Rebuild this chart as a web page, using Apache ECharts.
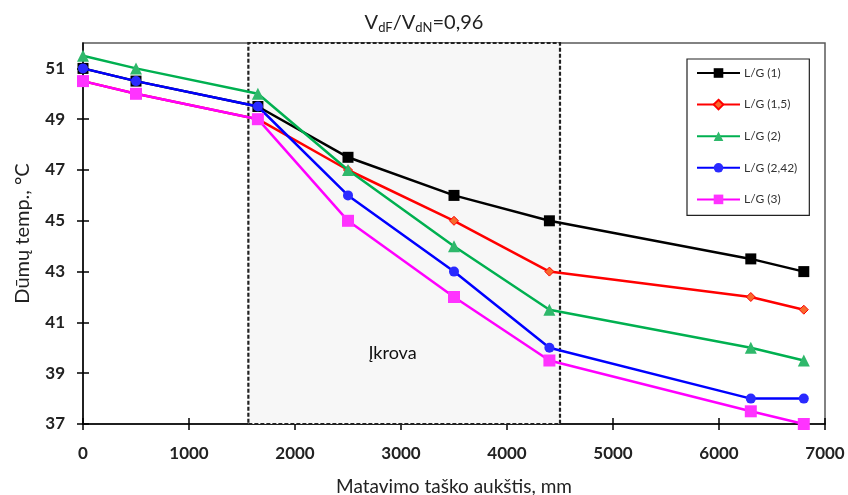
<!DOCTYPE html>
<html>
<head>
<meta charset="utf-8">
<script src="https://cdn.jsdelivr.net/npm/echarts@6/dist/echarts.min.js"></script>
<style>
  html, body { margin: 0; padding: 0; background: #fff; }
  #chart { width: 848px; height: 495px; }
</style>
</head>
<body>
<div id="chart"></div>
<script>
// Measurement heights along the stack, mm
const heights = [0, 500, 1650, 2500, 3500, 4400, 6300, 6800];

// Flue gas temperature, °C, for each L/G ratio
const seriesNames = ['L/G (1)', 'L/G (1,5)', 'L/G (2)', 'L/G (2,42)', 'L/G (3)'];
const lg1   = [51, 50.5, 49.5, 47.5, 46, 45, 43.5, 43];
const lg15  = [50.5, 50, 49, 47, 45, 43, 42, 41.5];
const lg2   = [51.5, 51, 50, 47, 44, 41.5, 40, 39.5];
const lg242 = [51, 50.5, 49.5, 46, 43, 40, 38, 38];
const lg3   = [50.5, 50, 49, 45, 42, 39.5, 37.5, 37];

// Packing (Įkrova) zone, mm
const packingZone = [1560, 4500];

// Axis tick labels
const xTicks = [0, 1000, 2000, 3000, 4000, 5000, 6000, 7000];
const yTicks = [37, 39, 41, 43, 45, 47, 49, 51];

const FONT = 'Lato, "Open Sans", sans-serif';

const pairs = ys => heights.map((x, i) => [x, ys[i]]);

const styles = [
  { color: '#000000', symbol: 'rect', size: 11, fill: '#000000' },
  { color: '#ff0000', symbol: 'diamond', size: 9, fill: '#f86a2c' },
  { color: '#00b050', symbol: 'triangle', size: 12, fill: '#2fb86b' },
  { color: '#0000ff', symbol: 'circle', size: 10, fill: '#2a2aff' },
  { color: '#ff00ff', symbol: 'rect', size: 12, fill: '#ff33ff' }
];
const values = [lg1, lg15, lg2, lg242, lg3];

const lineSeries = seriesNames.map((name, i) => ({
  name,
  type: 'line',
  z: 3 + i,
  data: pairs(values[i]),
  symbol: styles[i].symbol,
  symbolSize: styles[i].size,
  showAllSymbol: true,
  lineStyle: { color: styles[i].color, width: 2.5 },
  itemStyle: { color: styles[i].fill, borderColor: styles[i].color, borderWidth: i === 1 ? 1 : 0 },
  emphasis: { disabled: true },
  animation: false
}));

const zoneSeries = {
  name: 'zone',
  type: 'line',
  z: 1,
  data: [],
  silent: true,
  markArea: {
    silent: true,
    itemStyle: { color: '#f7f7f7', borderColor: '#222', borderWidth: 2.2, borderType: [4, 2] },
    label: { show: false },
    data: [[{ xAxis: packingZone[0], yAxis: 37 }, { xAxis: packingZone[1], yAxis: 52 }]]
  },
  markPoint: {
    silent: true,
    symbol: 'circle',
    symbolSize: 0,
    label: { show: true, position: 'inside', formatter: 'Įkrova', color: '#111', fontFamily: FONT, fontSize: 18 },
    data: [{ coord: [2920, 39.8] }]
  },
  animation: false
};

const axisText = { fontFamily: FONT, fontSize: 17, fontWeight: 'bold', color: '#222' };
const plain = v => String(v);

const chart = echarts.init(document.getElementById('chart'), null, { renderer: 'canvas' });
chart.setOption({
  backgroundColor: '#fff',
  animation: false,
  title: {
    text: 'V{sub|dF}/V{sub|dN}=0,96',
    left: 419, top: 6, textAlign: 'center',
    textStyle: {
      fontFamily: FONT, fontSize: 20, fontWeight: 'normal', color: '#222',
      rich: { sub: { fontFamily: FONT, fontSize: 13, color: '#222', verticalAlign: 'bottom', padding: [10, 0, 0, 0] } }
    }
  },
  grid: {
    left: 83, right: 23, top: 43, bottom: 71,
    outerBoundsMode: 'none',
    containLabel: false,
    show: true, borderColor: '#595959', borderWidth: 1.5, backgroundColor: 'transparent'
  },
  legend: {
    orient: 'vertical',
    left: 687, top: 59,
    width: 123,
    padding: [8, 12, 10, 9],
    itemWidth: 43, itemHeight: 12, itemGap: 19.6,
    backgroundColor: '#fff',
    borderColor: '#222', borderWidth: 1.2,
    data: seriesNames,
    textStyle: { fontFamily: FONT, fontSize: 12, color: '#333', padding: [0, 0, 0, -1] }
  },
  xAxis: [{
    type: 'value', min: 0, max: 7000, interval: 1000,
    axisLine: { show: true, lineStyle: { color: '#000', width: 1.5 } },
    axisTick: { show: true, length: 6, lineStyle: { color: '#000', width: 1.5 }, customValues: xTicks },
    axisLabel: Object.assign({ margin: 21, customValues: xTicks, formatter: plain }, axisText),
    splitLine: { show: false },
    name: 'Matavimo taško aukštis, mm',
    nameLocation: 'middle', nameGap: 53,
    nameTextStyle: { fontFamily: FONT, fontSize: 19, color: '#222' }
  }, {
    type: 'value', min: 0, max: 7000, interval: 1000, position: 'bottom',
    axisLine: { show: false },
    axisTick: { show: true, inside: true, length: 6, lineStyle: { color: '#000', width: 1.5 }, customValues: xTicks },
    axisLabel: { show: false },
    splitLine: { show: false }
  }],
  yAxis: [{
    type: 'value', min: 37, max: 52, interval: 2,
    axisLine: { show: true, lineStyle: { color: '#000', width: 1.5 } },
    axisTick: { show: true, length: 6, lineStyle: { color: '#000', width: 1.5 }, customValues: yTicks },
    axisLabel: Object.assign({ margin: 18, customValues: yTicks, formatter: plain }, axisText),
    splitLine: { show: false },
    name: 'Dūmų temp., °C',
    nameLocation: 'middle', nameGap: 50, nameRotate: 90,
    nameTextStyle: { fontFamily: FONT, fontSize: 20, color: '#222' }
  }, {
    type: 'value', min: 37, max: 52, interval: 2, position: 'left',
    axisLine: { show: false },
    axisTick: { show: true, inside: true, length: 6, lineStyle: { color: '#000', width: 1.5 }, customValues: yTicks },
    axisLabel: { show: false },
    splitLine: { show: false }
  }],
  series: [zoneSeries].concat(lineSeries)
});
</script>
</body>
</html>
